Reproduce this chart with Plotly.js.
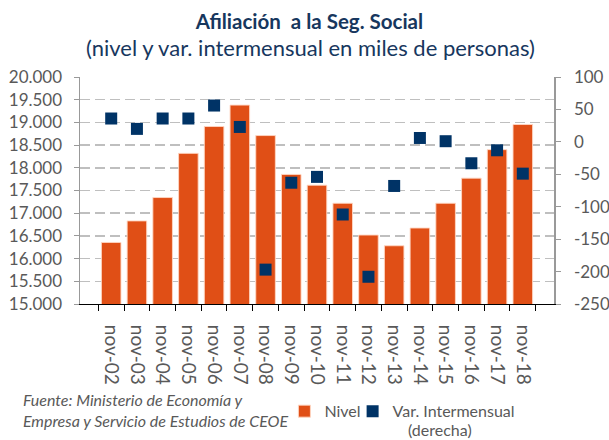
<!DOCTYPE html>
<html>
<head>
<meta charset="utf-8">
<script src="https://cdn.plot.ly/plotly-3.0.1.min.js"></script>
<style>
html,body{margin:0;padding:0;background:#fff;}
#chart{width:609px;height:440px;}
</style>
</head>
<body>
<div id="chart"></div>
<script>
var categories = ["nov-02","nov-03","nov-04","nov-05","nov-06","nov-07","nov-08","nov-09","nov-10","nov-11","nov-12","nov-13","nov-14","nov-15","nov-16","nov-17","nov-18"];
var nivel = [16356,16830,17345,18318,18909,19381,18710,17854,17617,17219,16519,16283,16674,17219,17772,18400,18953];
var varIntermensual = [36,20,36,36,56,23,-197,-63,-54,-112,-208,-68,6,1,-33,-13,-49];
var rightTickVals = [-250,-200,-150,-100,-50,0,50,100];
var rightTickText = ["-250","-200","-150","-100","-50","0","50","100"];

var navy = "#003366";
var orange = "#E04F16";
var gray = "#595959";

var traces = [
  {
    type: "bar",
    name: "Nivel",
    x: categories,
    y: nivel,
    marker: {color: orange, line: {color: "rgba(255,215,195,0.9)", width: 1}},
    yaxis: "y",
    legend: "legend"
  },
  {
    type: "scatter",
    mode: "markers",
    name: "Var. Intermensual",
    x: categories,
    y: varIntermensual,
    marker: {symbol: "square", size: 12, color: navy},
    yaxis: "y2",
    legend: "legend2"
  }
];

var layout = {
  width: 609,
  height: 440,
  margin: {l: 80, r: 55, t: 77, b: 136},
  paper_bgcolor: "#fff",
  plot_bgcolor: "#fff",
  font: {family: "Lato, sans-serif", color: gray, size: 16},
  separators: ",.",
  bargap: 0.24,
  showlegend: true,
  title: {
    text: "<b>Afiliación  a la Seg. Social</b>",
    font: {family: "Lato, sans-serif", size: 20.5, color: "#17375E"},
    x: 0.508, xanchor: "center",
    y: 0.95, yanchor: "middle", yref: "container"
  },
  annotations: [
    {
      text: "(nivel y var. intermensual en miles de personas)",
      xref: "paper", yref: "paper",
      x: 0.487, y: 1.128, xanchor: "center", yanchor: "middle",
      showarrow: false,
      font: {family: "Lato, sans-serif", size: 22, color: "#17375E"}
    },
    {
      text: "<i>Fuente: Ministerio de Economía y<br>Empresa y Servicio de Estudios de CEOE</i>",
      xref: "paper", yref: "paper",
      x: -0.124, y: -0.467, xanchor: "left", yanchor: "middle", align: "left",
      showarrow: false,
      font: {family: "Lato, sans-serif", size: 16, color: gray}
    },
    {
      text: "(derecha)",
      xref: "paper", yref: "paper",
      x: 0.759, y: -0.555, xanchor: "center", yanchor: "middle",
      showarrow: false,
      font: {family: "Lato, sans-serif", size: 16, color: gray}
    }
  ],
  xaxis: {
    type: "category",
    tickson: "boundaries",
    ticks: "outside",
    ticklen: 6,
    tickcolor: "#000",
    showline: true,
    linecolor: "#000",
    linewidth: 1,
    tickangle: 90,
    tickfont: {size: 19, color: gray},
    ticklabelstandoff: 16,
    showgrid: false,
    automargin: false
  },
  yaxis: {
    range: [15000, 20000],
    dtick: 500,
    tick0: 15000,
    tickformat: ",d",
    showgrid: true,
    gridcolor: "#BFBFBF",
    gridwidth: 1.5,
    griddash: "10px,5px",
    zeroline: false,
    showline: true,
    linecolor: "#999",
    linewidth: 1.5,
    ticks: "outside",
    ticklen: 5,
    tickcolor: "#999",
    tickfont: {size: 17, color: gray},
    ticklabelstandoff: 8,
    automargin: false
  },
  yaxis2: {
    overlaying: "y",
    side: "right",
    range: [-250, 100],
    tickvals: rightTickVals,
    ticktext: rightTickText,
    showgrid: false,
    zeroline: false,
    showline: true,
    linecolor: "#999",
    linewidth: 1.5,
    ticks: "outside",
    ticklen: 5,
    tickcolor: "#999",
    tickfont: {size: 17, color: gray},
    ticklabelstandoff: 10,
    automargin: false
  },
  legend: {
    orientation: "h",
    xref: "container", yref: "container",
    x: 0.467, y: 0.104,
    xanchor: "left", yanchor: "top",
    valign: "top",
    font: {size: 16, color: gray},
    itemwidth: 30,
    bgcolor: "rgba(0,0,0,0)"
  },
  legend2: {
    orientation: "h",
    xref: "container", yref: "container",
    x: 0.579, y: 0.104,
    xanchor: "left", yanchor: "top",
    valign: "top",
    font: {size: 16, color: gray},
    itemwidth: 30,
    bgcolor: "rgba(0,0,0,0)"
  }
};

Plotly.newPlot("chart", traces, layout, {displayModeBar: false, staticPlot: true});
</script>
</body>
</html>
